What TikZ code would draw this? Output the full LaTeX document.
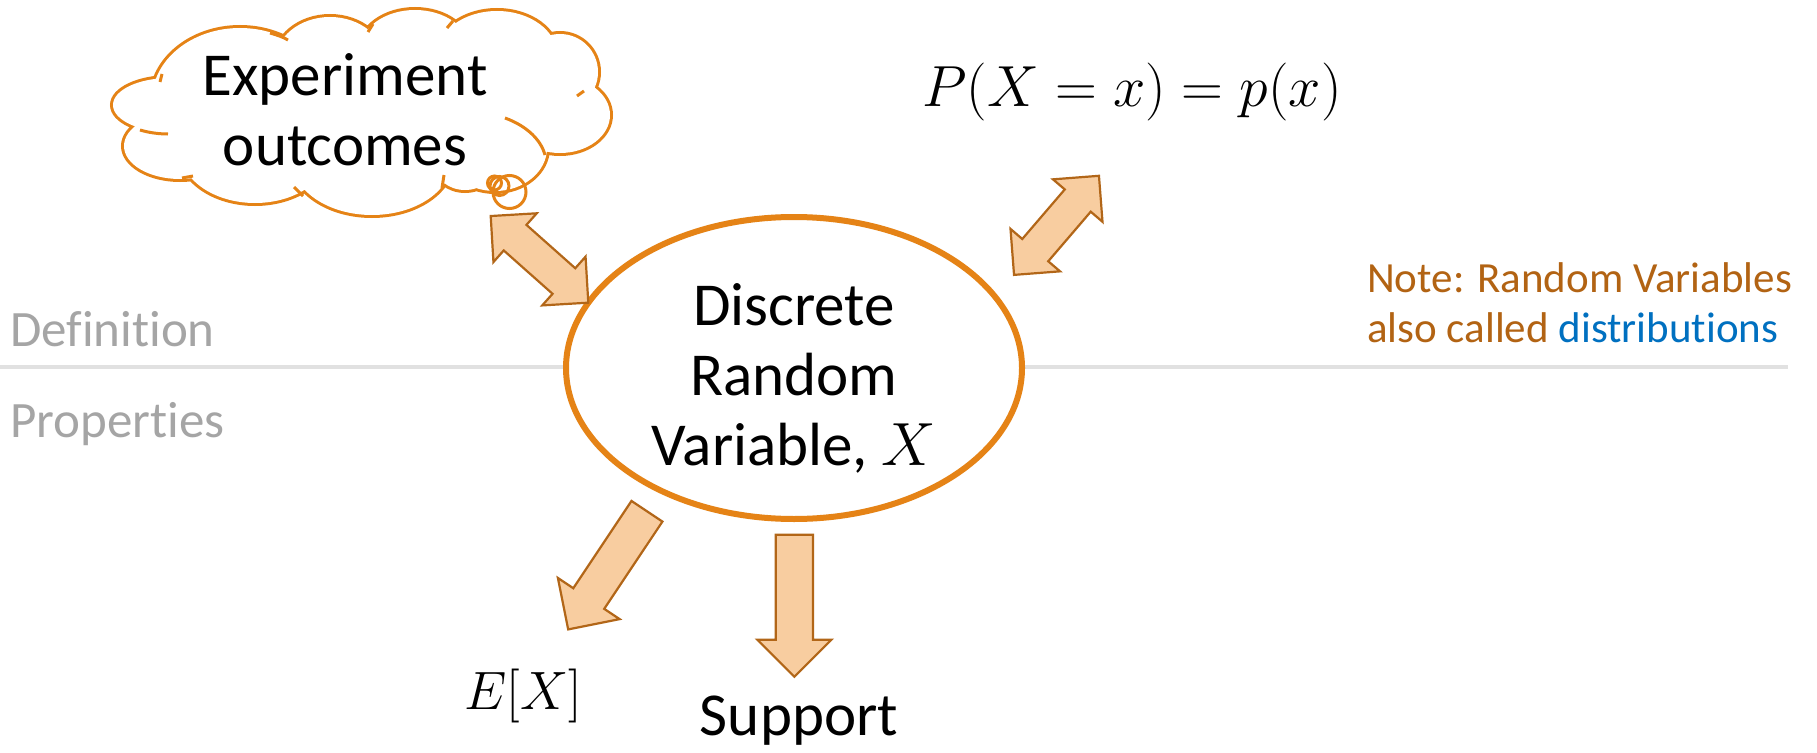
\RequirePackage{fix-cm}
\documentclass[tikz,border=0pt]{standalone}
\usepackage[no-math]{fontspec}
\setmainfont{Carlito}[Ligatures=NoCommon]
\usetikzlibrary{shapes.geometric,shapes.arrows,calc}
\definecolor{rvorange}{RGB}{229,131,22}
\definecolor{arrfill}{RGB}{248,205,160}
\definecolor{arrline}{RGB}{178,102,24}
\definecolor{notebrown}{RGB}{178,99,19}
\definecolor{noteblue}{RGB}{0,112,192}
\definecolor{labgray}{RGB}{165,165,165}
\definecolor{linegray}{RGB}{225,225,225}
\newcommand{\mycloudpuffs}{
(240,100) ellipse [x radius=88, y radius=72]
(330,62) ellipse [x radius=55, y radius=45]
(415,50) ellipse [x radius=55, y radius=40]
(497,55) ellipse [x radius=60, y radius=44]
(560,72) circle [radius=38]
(560,115) ellipse [x radius=50, y radius=38]
(495,148) ellipse [x radius=52, y radius=43]
(465,165) ellipse [x radius=30, y radius=25]
(372,160) ellipse [x radius=80, y radius=55]
(255,150) ellipse [x radius=75, y radius=53]
(180,146) ellipse [x radius=56, y radius=33]
(170,105) ellipse [x radius=57, y radius=27]
(360,115) ellipse [x radius=180, y radius=60]
}
\begin{document}
\begin{tikzpicture}[x=1pt,y=-1pt,
  maintext/.style={font=\fontsize{61}{70}\selectfont, inner sep=0pt, text=black},
  labeltext/.style={font=\fontsize{51}{60}\selectfont, inner sep=0pt, text=labgray},
  notetext/.style={font=\fontsize{43}{50}\selectfont, inner sep=0pt, text=notebrown},
  mathtext/.style={font=\fontsize{58}{66}\selectfont, inner sep=0pt},
  sepline/.style={draw=linegray, line width=4.5pt},
  cloudline/.style={draw=rvorange, line width=3pt},
  sarrow/.style={single arrow, draw=arrline, fill=arrfill, line width=2.2pt,
    single arrow head extend=18.5pt, single arrow tip angle=90,
    inner sep=17.5pt, minimum height=142pt, anchor=tip},
  darrow/.style={double arrow, draw=arrline, fill=arrfill, line width=2.2pt,
    double arrow head extend=15.5pt, double arrow tip angle=90,
    inner sep=16pt, minimum height=130.5pt}
]
\useasboundingbox (0,0) rectangle (1817,752);
\fill[white] (0,0) rectangle (1817,752);
% separator
\coordinate (sepL) at (0,367);
\coordinate (sepR) at (1788,367);
\draw[sepline] (sepL) -- (sepR);
% section labels
\node[labeltext, anchor=base west] (defn) at (10,346) {Definition};
\node[labeltext, anchor=base west] (props) at (10,437.3) {Properties};
% cloud
\path[draw=rvorange, line width=6pt] \mycloudpuffs;
\path[fill=white] \mycloudpuffs;
\draw[cloudline] (505,118) .. controls (527,126) and (541,140) .. (545,155);
\draw[cloudline] (140,130) .. controls (150,133) and (160,134) .. (168,134);
\draw[cloudline] (270,33) .. controls (277,35) and (283,37) .. (288,40);
\draw[cloudline] (444,175) -- (442,188);
\draw[cloudline] (584,91) -- (577,96);
\draw[cloudline] (373,24) -- (368,32);
\draw[cloudline] (453,21) -- (447,28);
\draw[cloudline] (294,187) -- (303,196);
\draw[cloudline] (182,178) -- (193,176);
\draw[cloudline] (162,74) -- (160,82);
\draw[cloudline] (494.5,183) circle [radius=7];
\draw[cloudline] (499.5,186) circle [radius=9.5];
\draw[cloudline] (509.5,192) circle [radius=16.5];
\node[maintext, align=center] (cloudtext) at (345,110) {Experiment\\outcomes};
% random variable
\node[ellipse, draw=rvorange, line width=6pt, fill=white, minimum width=456pt,
  minimum height=302pt, inner sep=0pt] (rv) at (794,368) {};
\node[maintext, align=center] (rvlabel) at (794,378.4) {Discrete\\Random\\Variable, $X$};
% pmf
\node[mathtext, anchor=base] (pmf) at (1132,106.7) {$P(X = x) = p(x)$};
% note
\node[notetext, anchor=base west] (note1) at (1367,292.7) {Note: Random Variables};
\node[notetext, anchor=base west] (note2) at (1367,342.7) {also called \textcolor{noteblue}{distributions}};
% properties
\node[mathtext, font=\fontsize{54}{60}\selectfont, anchor=base] (ex) at (523,709) {$E[X]$};
\node[maintext, anchor=base] (support) at (799,735) {Support};
% block arrows
\coordinate (ul1) at (490.7,216);
\coordinate (ul2) at (588.3,302.7);
\node[darrow, rotate=-41.6] (arrUL) at ($(ul1)!0.5!(ul2)$) {};
\coordinate (ur1) at (1014,275);
\coordinate (ur2) at (1099,175.7);
\node[darrow, rotate=49.4] (arrUR) at ($(ur1)!0.5!(ur2)$) {};
\coordinate (extip) at (567.3,630.7);
\node[sarrow, rotate=236.3] (arrEX) at (extip) {};
\coordinate (suptip) at (794.3,678.3);
\node[sarrow, rotate=270] (arrSup) at (suptip) {};
\end{tikzpicture}
\end{document}
